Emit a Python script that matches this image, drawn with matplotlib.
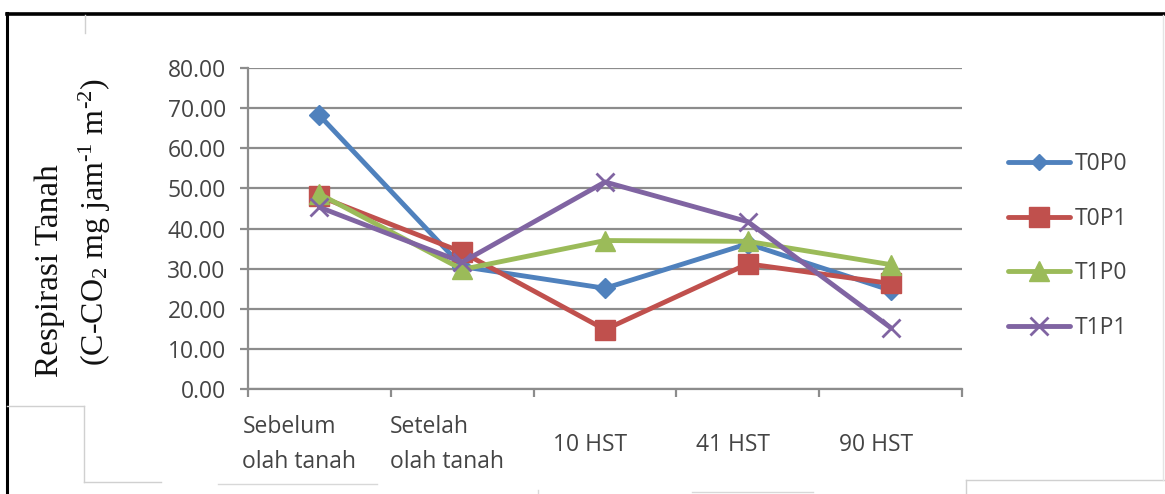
import numpy as np
import matplotlib
matplotlib.use("Agg")
import matplotlib.pyplot as plt
from matplotlib.lines import Line2D
from matplotlib.transforms import ScaledTranslation

# kategori waktu pengamatan
kategori = ["Sebelum\nolah tanah", "Setelah\nolah tanah", "10 HST", "41 HST", "90 HST"]

# respirasi tanah tiap perlakuan (C-CO2 mg jam-1 m-2)
t0p0 = [68.2, 30.5, 25.1, 36.2, 24.6]
t0p1 = [48.0, 34.1, 14.8, 31.2, 26.3]
t1p0 = [48.6, 29.8, 37.0, 36.8, 31.0]
t1p1 = [45.3, 31.6, 51.6, 41.7, 15.3]

seri = [
    ("T0P0", t0p0, "#4F81BD", "D", 10.5),
    ("T0P1", t0p1, "#C0504D", "s", 14),
    ("T1P0", t1p0, "#9BBB59", "^", 14),
    ("T1P1", t1p1, "#8064A2", "x", 13),
]

plt.rcParams["mathtext.fontset"] = "custom"
plt.rcParams["mathtext.rm"] = "Liberation Serif"
plt.rcParams["mathtext.it"] = "Liberation Serif:italic"

W, H = 1165, 494
fig = plt.figure(figsize=(W / 100, H / 100), dpi=100)
ax = fig.add_axes([248 / W, 1 - 389 / H, (962 - 248) / W, (389 - 68) / H])

tick_font = "Open Sans"
grid_col = "#8c8c8c"
teks_col = "#444444"
fs = 16.5

x = np.arange(len(kategori))
for nama, nilai, warna, mk, ms in seri:
    ax.plot(x, nilai, color=warna, lw=3.5, marker=mk, markersize=ms,
            markeredgewidth=2 if mk == "x" else 1, markeredgecolor=warna,
            markerfacecolor=warna, label=nama, solid_capstyle="round")

ax.set_xlim(-0.5, len(kategori) - 0.5)
ax.set_ylim(0, 80)
ax.set_yticks(np.arange(0, 81, 10))
ax.set_yticklabels([f"{v:.2f}" for v in np.arange(0, 81, 10)],
                   fontfamily=tick_font, fontsize=fs, color=teks_col)
ax.yaxis.grid(True, color=grid_col, lw=1.6)
ax.set_axisbelow(True)
ax.tick_params(axis="y", length=6, width=1.6, color=grid_col, pad=10)

# label kategori di tengah, tanda pemisah di batas kategori
ax.set_xticks(x)
ax.set_xticklabels(kategori, fontfamily=tick_font, fontsize=fs, color=teks_col,
                   linespacing=1.65, multialignment="left")
ax.set_xticks(np.arange(-0.5, len(kategori)), minor=True)
ax.tick_params(axis="x", which="major", length=0, pad=40)
ax.tick_params(axis="x", which="minor", length=6, width=1.6, color=grid_col)
for i, lbl in enumerate(ax.get_xticklabels()):
    dx = -20 if i == 0 else -15
    lbl.set_va("center")
    lbl.set_transform(lbl.get_transform() + ScaledTranslation(dx / 100, 0, fig.dpi_scale_trans))

for s in ["top", "right"]:
    ax.spines[s].set_visible(False)
for s in ["left", "bottom"]:
    ax.spines[s].set_color(grid_col)
    ax.spines[s].set_linewidth(1.6)

# judul sumbu y dua baris
fig.text(50 / W, 1 - 271 / H, "Respirasi Tanah", rotation=90, ha="center", va="center",
         fontfamily="Liberation Serif", fontsize=24, color="#111111")
fig.text(95 / W, 1 - 222 / H, r"(C-CO$_2$ mg jam$^{\text{-1}}$ m$^{\text{-2}}$)", rotation=90,
         ha="center", va="center", fontfamily="Liberation Serif", fontsize=23,
         color="#111111")

leg = fig.legend(loc="center left", bbox_to_anchor=(1008 / W, 1 - 246 / H),
                 frameon=False, prop={"family": tick_font, "size": fs},
                 handlelength=2.7, handletextpad=0.2, labelspacing=1.35,
                 borderpad=0, borderaxespad=0)
for t in leg.get_texts():
    t.set_color(teks_col)
leg.legend_handles[0].set_markersize(8)

# bingkai dan garis tipis di tepi gambar
garis = [
    ([7, 7], [13, H], "black", 2.2),
    ([7, W], [14, 14], "black", 2.6),
    ([85, 85], [15, 33], "#d0d0d0", 1),
    ([7, 84], [406, 406], "#d0d0d0", 1),
    ([84, 84], [406, 482], "#d0d0d0", 1),
    ([84, 161], [482, 482], "#d0d0d0", 1),
    ([218, 377], [484, 484], "#d8d8d8", 1),
    ([692, 813], [492, 492], "#d8d8d8", 1),
    ([538, 538], [490, H], "#d8d8d8", 1),
    ([966, W], [480, 480], "#d0d0d0", 1),
    ([966, 966], [480, H], "#d0d0d0", 1),
    ([1163, 1163], [15, 480], "#e4e4e4", 1),
]
for xs, ys, c, lw in garis:
    fig.add_artist(Line2D([v / W for v in xs], [1 - v / H for v in ys],
                          transform=fig.transFigure, color=c, lw=lw))

fig.savefig("out.png", dpi=100)
